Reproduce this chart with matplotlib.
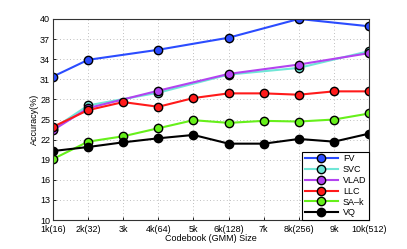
import numpy as np
import matplotlib
matplotlib.use('Agg')
import matplotlib.pyplot as plt

plt.rcParams['font.family'] = ['Liberation Sans', 'DejaVu Sans']

# 碼本大小與標籤
tick_labels = ['1k(16)', '2k(32)', '3k', '4k(64)', '5k', '6k(128)', '7k', '8k(256)', '9k', '10k(512)']
x_all = [1, 2, 3, 4, 5, 6, 7, 8, 9, 10]
x_gmm = [1, 2, 4, 6, 8, 10]

# 各方法準確率
fv = [31.4, 33.9, 35.4, 37.2, 40.0, 38.9]
svc = [23.6, 27.1, 29.0, 31.7, 32.7, 35.2]
vlad = [23.4, 26.7, 29.3, 31.8, 33.2, 34.9]
llc = [23.9, 26.4, 27.6, 26.9, 28.2, 28.9, 28.9, 28.7, 29.2, 29.2]
sak = [19.1, 21.7, 22.5, 23.7, 24.9, 24.5, 24.8, 24.7, 25.0, 25.9]
vq = [20.3, 20.9, 21.6, 22.2, 22.7, 21.4, 21.4, 22.1, 21.7, 22.9]

fig = plt.figure(figsize=(4.07, 2.49), dpi=100)
ax = fig.add_axes([0.130, 0.116, 0.777, 0.808])

style = dict(lw=1.5, marker='o', ms=6, mec='k', mew=1.0)
ax.plot(x_gmm, fv, color='#2b4cff', mfc='#2b4cff', label='FV', **style)
ax.plot(x_gmm, svc, color='#6fe6d6', mfc='#6fe6d6', label='SVC', **style)
ax.plot(x_gmm, vlad, color='#b343f0', mfc='#b343f0', label='VLAD', **style)
ax.plot(x_all, llc, color='#ff1a1a', mfc='#ff1a1a', label='LLC', **style)
ax.plot(x_all, sak, color='#66f01a', mfc='#66f01a', label='SA\u2013k', **style)
ax.plot(x_all, vq, color='k', mfc='k', label='VQ', **style)

ax.set_xlim(1, 10)
ax.set_ylim(10, 40)
ax.set_xticks(x_all)
ax.set_xticklabels(tick_labels)
ax.set_yticks(np.arange(10, 41, 3))
ax.tick_params(labelsize=6.5, direction='in', length=2, width=0.6)
ax.tick_params(axis='x', pad=3.5)
ax.tick_params(axis='y', pad=2)
ax.grid(True, linestyle=(0, (1, 3)), color='#aaaaaa', lw=0.6)
for s in ax.spines.values():
    s.set_linewidth(0.8)
    s.set_color('#333333')
ax.set_xlabel('Codebook (GMM) Size', fontsize=6.5, labelpad=0)
ax.set_ylabel('Accuracy(%)', fontsize=6.5, labelpad=1)

leg = ax.legend(loc='lower right', fontsize=6.5, handlelength=3.6, borderaxespad=0,
                fancybox=False, edgecolor='k', framealpha=1, labelspacing=0.2,
                borderpad=0.3, handletextpad=0.6)
leg.get_frame().set_linewidth(0.8)

fig.savefig('out.png', dpi=100)
